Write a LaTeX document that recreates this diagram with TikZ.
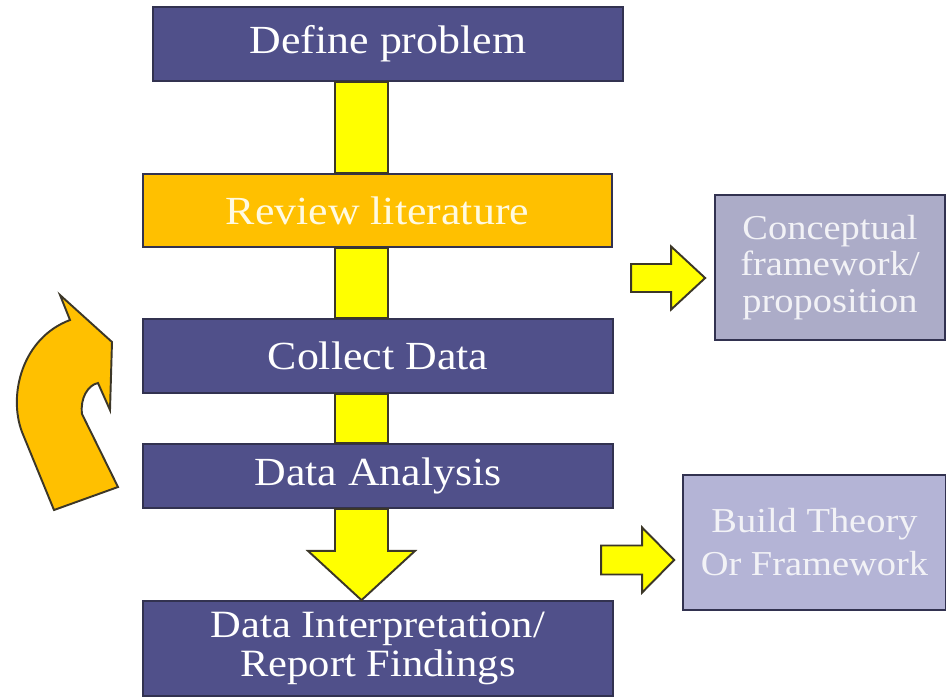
\documentclass[tikz,border=0pt]{standalone}
\usepackage{fontspec}
\setmainfont[FakeStretch=1.1]{Liberation Serif}
\usetikzlibrary{calc}
\definecolor{boxblue}{RGB}{80,80,138}
\definecolor{boxline}{RGB}{50,50,80}
\definecolor{litorange}{RGB}{255,192,0}
\definecolor{cream}{RGB}{255,250,225}
\definecolor{lilac}{RGB}{180,180,214}
\definecolor{greylilac}{RGB}{172,172,200}
\definecolor{paletext}{RGB}{242,242,246}
\definecolor{barline}{RGB}{60,55,40}
\definecolor{barfill}{RGB}{255,255,0}
\tikzset{
  stepbox/.style={draw=boxline, line width=1pt, fill=boxblue, text=white,
    minimum width=9.4cm, minimum height=1.48cm, inner sep=0pt, align=center,
    font=\fontsize{22.7}{24}\selectfont},
  sidebox/.style={draw=boxline, line width=1pt, fill=lilac, text=paletext,
    inner sep=0pt, align=center},
  bar/.style={draw=barline, line width=1.1pt, fill=barfill},
  loop arrow/.style={draw=barline, line width=1.1pt, fill=litorange}
}
\begin{document}
\begin{tikzpicture}[x=0.02cm,y=-0.02cm,line join=miter]
\useasboundingbox (0,0) rectangle (946,698);
% main column
\node[stepbox] (define) at (388,44) {Define problem};
\node[stepbox, fill=litorange, text=cream, minimum width=9.38cm, minimum height=1.46cm]
  (review) at (377.5,210.5) {Review literature};
\node[stepbox] (collect) at (378,356) {Collect Data};
\node[stepbox, minimum height=1.28cm] (analysis) at (378,476) {Data Analysis};
\node[stepbox, minimum height=1.9cm, font=\fontsize{22}{22.5}\selectfont]
  (interp) at (378,648.5) {Data Interpretation/\\Report Findings};
% side boxes
\node[sidebox, fill=greylilac, minimum width=4.6cm, minimum height=2.9cm,
  font=\fontsize{19.9}{20.8}\selectfont]
  (concept) at (830,267.5) {Conceptual\\framework/\\proposition};
\node[sidebox, minimum width=5.26cm, minimum height=2.7cm,
  font=\fontsize{19.9}{24.5}\selectfont]
  (build) at (814.5,542.5) {Build Theory\\Or Framework};
% yellow spine between the steps
\coordinate (spine) at (361.5,0);
\foreach \a/\b in {define/review,review/collect,collect/analysis}
  \draw[bar] ($(spine |- \a.south)+(-26.5,0)$) rectangle ($(spine |- \b.north)+(26.5,0)$);
\coordinate (shaft) at (spine |- analysis.south);
\draw[bar] ($(shaft)+(-26.5,0)$) -- ($(shaft)+(-26.5,42)$) -- ($(shaft)+(-53.5,42)$)
  -- (spine |- interp.north) -- ($(shaft)+(53.5,42)$) -- ($(shaft)+(26.5,42)$)
  -- ($(shaft)+(26.5,0)$) -- cycle;
% block arrows to the side boxes
\draw[bar] ($(concept.west)+(-9,10.5)$) -- ++(-34,-31.5) -- ++(0,17.5) -- ++(-40,0)
  -- ++(0,28) -- ++(40,0) -- ++(0,17.5) -- cycle;
\draw[bar] ($(build.west)+(-8,17.5)$) -- ++(-32,-32.5) -- ++(0,18) -- ++(-41,0)
  -- ++(0,29) -- ++(41,0) -- ++(0,18) -- cycle;
% curved arrow back up
\draw[loop arrow] (60,295) -- (112,342) -- (110,410) -- (98,383)
  .. controls (88,385) and (80,398) .. (82,414) -- (118,487) -- (54,510)
  -- (22,432) .. controls (8,395) and (22,338) .. (70,320) -- cycle;
\end{tikzpicture}
\end{document}
